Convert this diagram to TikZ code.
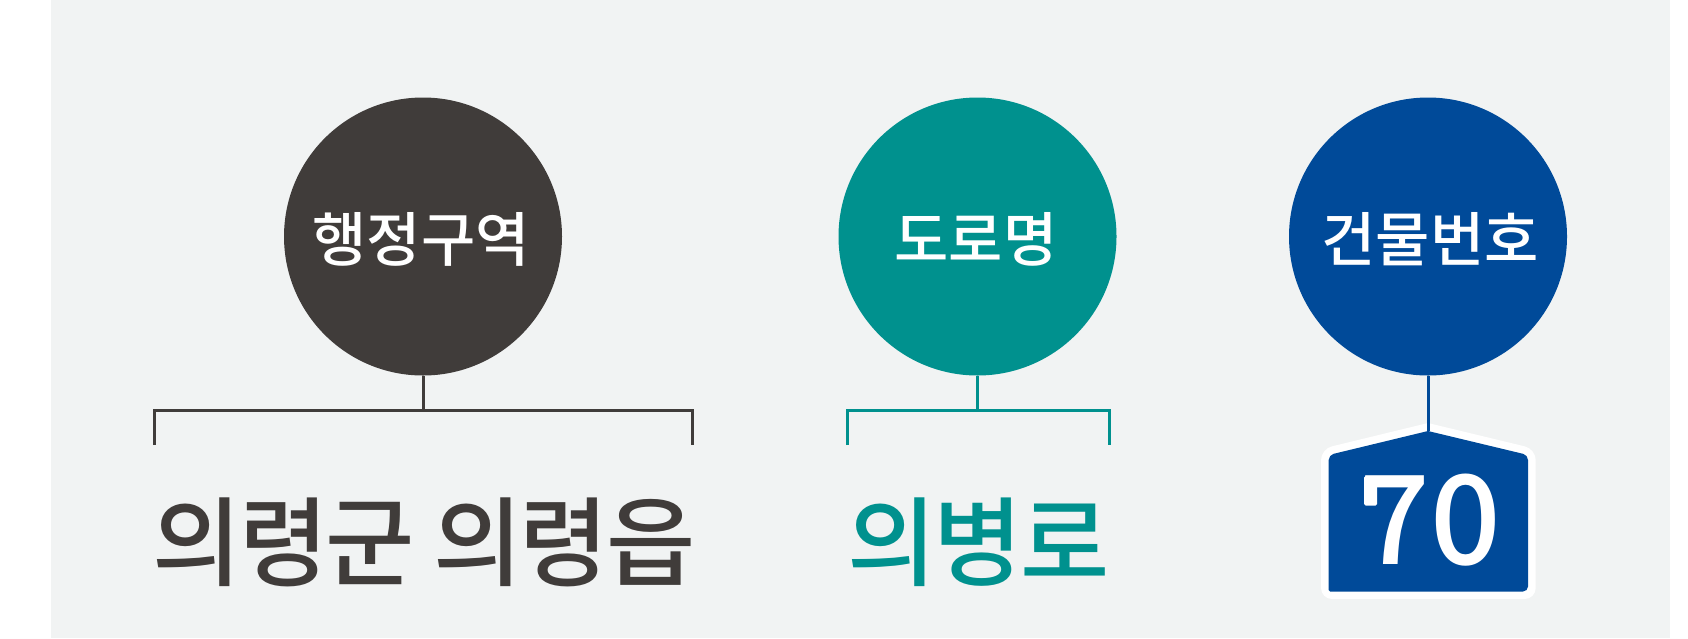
\documentclass[tikz,border=0pt]{standalone}
\usepackage{fontspec}
\newfontfamily\cjk{Noto Sans CJK KR Medium}
\newfontfamily\cjktight{Noto Sans CJK KR Medium}[LetterSpace=-3]
\definecolor{bgc}{HTML}{F1F3F3}
\definecolor{darkc}{HTML}{403C3A}
\definecolor{tealc}{HTML}{00918E}
\definecolor{bluec}{HTML}{004A99}
\tikzset{
  x=1pt,y=-1pt,
  disc/.style={circle,minimum size=278pt,inner sep=0pt,fill=#1},
  lbl/.style={inner sep=0pt,text=white,font=\cjk\fontsize{59}{59}\selectfont},
  big/.style={inner sep=0pt,text=#1,font=\cjktight\fontsize{97}{97}\selectfont},
  wire/.style={draw=#1,line width=3pt},
}
\begin{document}
\begin{tikzpicture}
\useasboundingbox (0,0) rectangle (1688,638);
\fill[bgc] (51,0) rectangle (1670,638);
\node[disc=darkc] (c1) at (423,236.5) {};
\node[disc=tealc] (c2) at (977.5,236.5) {};
\node[disc=bluec] (c3) at (1428,236.5) {};
\node[lbl] (t1) at (421,239) {행정구역};
\node[lbl] (t2) at (976,239) {도로명};
\node[lbl] (t3) at (1430,239) {건물번호};
\node[big=darkc] (b1) at (424,542) {의령군 의령읍};
\node[big=tealc] (b2) at (978.5,542) {의병로};
% brackets
\coordinate (j1) at (423,410.5);
\coordinate (l1) at (154,410.5);
\coordinate (r1) at (692.5,410.5);
\coordinate (le1) at (154,445);
\coordinate (re1) at (692.5,445);
\draw[wire=darkc] (c1.south) -- (j1);
\draw[wire=darkc] (le1) -- (l1) -- (r1) -- (re1);
\coordinate (j2) at (977.5,410.5);
\coordinate (l2) at (847,410.5);
\coordinate (r2) at (1109.5,410.5);
\coordinate (le2) at (847,445);
\coordinate (re2) at (1109.5,445);
\draw[wire=tealc] (c2.south) -- (j2);
\draw[wire=tealc] (le2) -- (l2) -- (r2) -- (re2);
% sign
\coordinate (apex) at (1428,431);
\fill[white] (1428,423) [rounded corners=11pt] -- (1535.7,449) -- (1535.7,599) -- (1321,599) -- (1321,449) [sharp corners] -- cycle;
\fill[bluec] (apex) [rounded corners=5pt] -- (1528,455) -- (1528,591.5) [rounded corners=1.5pt] -- (1328.7,591.5) [rounded corners=5pt] -- (1328.7,455) [sharp corners] -- cycle;
\draw[wire=bluec] (c3.south) -- (apex);
\node[inner sep=0pt,text=white,font=\cjk\fontsize{124}{124}\selectfont] (n70) at (1430.5,520) {70};
\fill[white,rounded corners=1.5pt] (1364,476) rectangle (1377,505.5);
\end{tikzpicture}
\end{document}
